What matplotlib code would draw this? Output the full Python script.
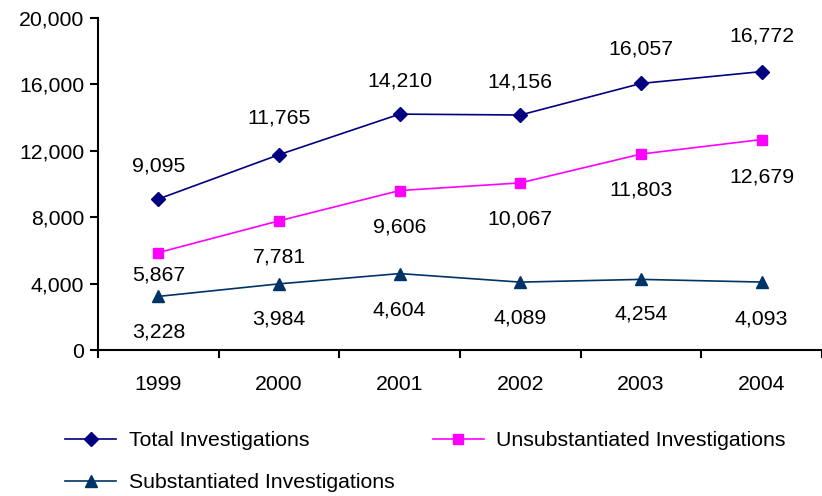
import matplotlib
matplotlib.use("Agg")
import matplotlib.pyplot as plt
import numpy as np

years = ["1999", "2000", "2001", "2002", "2003", "2004"]
total = [9095, 11765, 14210, 14156, 16057, 16772]
unsub = [5867, 7781, 9606, 10067, 11803, 12679]
subst = [3228, 3984, 4604, 4089, 4254, 4093]

# label offsets in pixels (vertical)
total_off = [33, 37, 33, 33, 34, 36]
unsub_off = [-22, -36, -36, -36, -36, -37]
subst_off = [-36, -35, -36, -36, -35, -37]

plt.rcParams['font.family'] = ['Liberation Sans', 'DejaVu Sans']
fig = plt.figure(figsize=(8.22, 4.96), dpi=100)
ax = fig.add_axes([98/822, 146/496, 1 - 98/822, 332/496])

x = np.arange(len(years))
c_total = "#000080"
c_unsub = "#FF00FF"
c_sub = "#003366"

l1, = ax.plot(x, total, color=c_total, lw=1.2, marker="D", ms=7, label="Total Investigations")
l2, = ax.plot(x, unsub, color=c_unsub, lw=1.2, marker="s", ms=7, mec=c_unsub, label="Unsubstantiated Investigations")
l3, = ax.plot(x, subst, color=c_sub, lw=1.2, marker="^", ms=8, label="Substantiated Investigations")

fs = 15.3
for vals, offs in ((total, total_off), (unsub, unsub_off), (subst, subst_off)):
    for xi, v, o in zip(x, vals, offs):
        ax.annotate(f"{v:,}", (xi, v), xytext=(0, o), textcoords="offset pixels",
                    ha="center", va="center", fontsize=fs, color="black")

ax.set_xlim(-0.5, len(years) - 0.5)
ax.set_ylim(0, 20000)
ax.set_yticks(np.arange(0, 20001, 4000))
ax.set_yticklabels([f"{v:,}" for v in range(0, 20001, 4000)], fontsize=fs)
ax.set_xticks(x)
ax.set_xticklabels(years, fontsize=fs)
ax.set_xticks(np.arange(-0.5, len(years)), minor=True)
ax.tick_params(axis="x", which="major", length=0, pad=18)
ax.tick_params(axis="x", which="minor", length=6, width=1.5, direction="out")
ax.tick_params(axis="y", length=6, width=1.5, pad=4)
for s in ("top", "right"):
    ax.spines[s].set_visible(False)
for s in ("left", "bottom"):
    ax.spines[s].set_linewidth(1.5)

leg = fig.legend(handles=[l1, l3, l2], ncol=2, loc="upper left",
                 bbox_to_anchor=(65/822, 1 - 431/496), frameon=False,
                 fontsize=fs, handlelength=2.4, handletextpad=0.6,
                 columnspacing=1.8, labelspacing=1.1, borderaxespad=0, borderpad=0)

fig.savefig("out.png", dpi=100)
